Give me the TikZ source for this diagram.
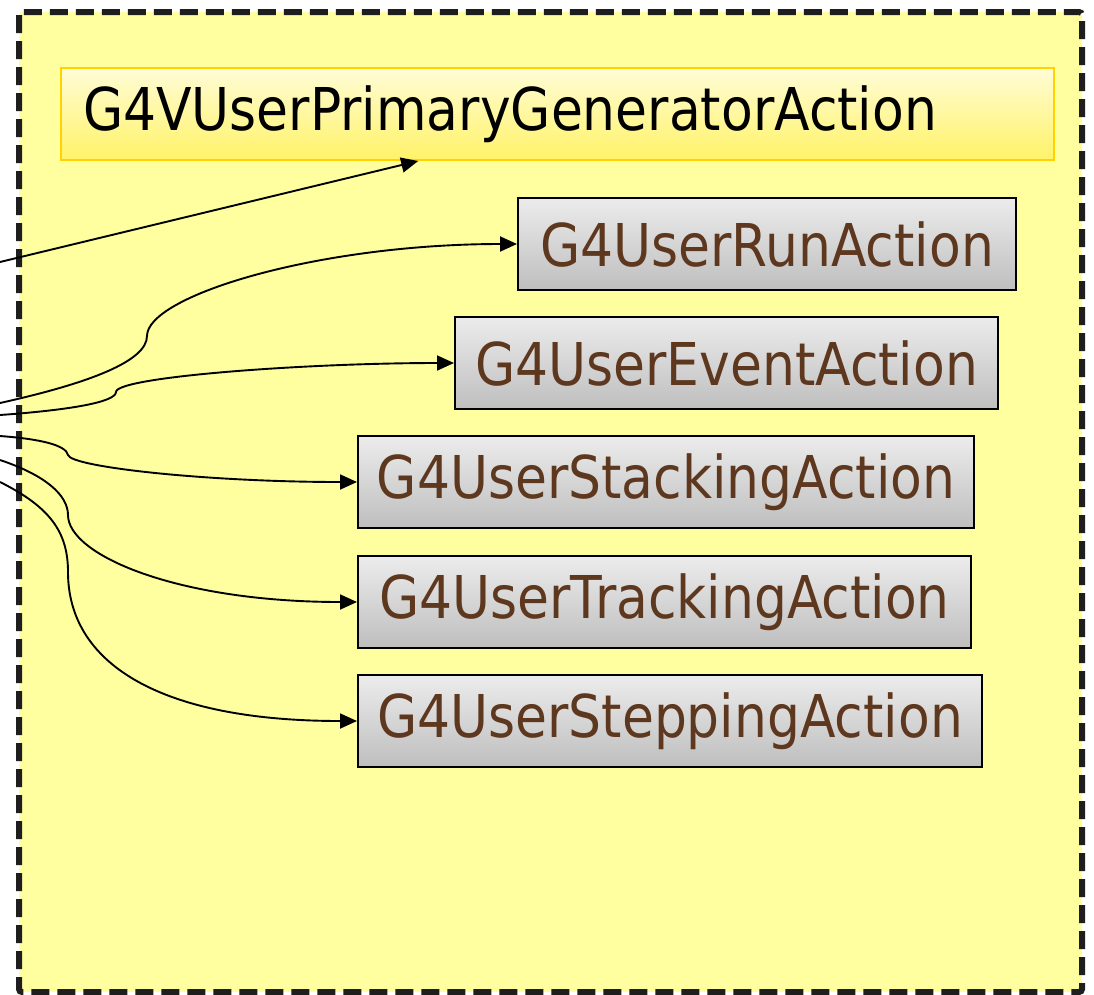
\documentclass[tikz,border=0pt]{standalone}
\usepackage{fontspec}
\setmainfont{DejaVu Sans}[FakeStretch=0.88]
\usetikzlibrary{calc,arrows.meta}
\definecolor{paneYellow}{RGB}{255,255,160}
\definecolor{paneBorder}{RGB}{30,30,30}
\definecolor{baseTop}{RGB}{255,252,214}
\definecolor{baseBottom}{RGB}{255,243,104}
\definecolor{baseBorder}{RGB}{255,210,0}
\definecolor{userTop}{RGB}{236,236,236}
\definecolor{userBottom}{RGB}{190,190,190}
\definecolor{userText}{RGB}{94,56,30}
\tikzset{
  basebox/.style={draw=baseBorder,line width=2pt,top color=baseTop,bottom color=baseBottom,
    minimum height=92pt,text width=949pt,align=left,inner xsep=22pt,anchor=north west,
    font=\fontsize{59}{60}\selectfont},
  userbox/.style={draw=black,line width=2pt,top color=userTop,bottom color=userBottom,
    minimum height=92pt,inner sep=0pt,anchor=north west,text=userText,
    font=\fontsize{59}{60}\selectfont},
  hook/.style={line width=1.9pt,-{Triangle[length=17pt,width=15pt]}}
}
\begin{document}
\begin{tikzpicture}[x=1pt,y=-1pt]
\useasboundingbox (0,0) rectangle (1094,994);
% the dashed pane
\draw[fill=paneYellow,draw=paneBorder,line width=6pt,dash pattern=on 18pt off 8pt,rounded corners=3pt]
  (19,12) rectangle (1082,992);
% action classes
\node[basebox] (prim) at (60,67) {G4VUserPrimaryGeneratorAction};
\node[userbox,minimum width=498pt] (run) at (517,197) {G4UserRunAction};
\node[userbox,minimum width=543pt] (event) at (454,316) {G4UserEventAction};
\node[userbox,minimum width=616pt] (stacking) at (357,435) {G4UserStackingAction};
\node[userbox,minimum width=613pt] (tracking) at (357,555) {G4UserTrackingAction};
\node[userbox,minimum width=624pt] (stepping) at (357,674) {G4UserSteppingAction};
% loose ends on the left
\coordinate (sPrim) at (0,262);
\coordinate (sRun) at (0,403);
\coordinate (sEvent) at (0,415);
\coordinate (sStack) at (0,436);
\coordinate (sTrack) at (0,460);
\coordinate (sStep) at (0,482);
\coordinate (kRun) at (147,336);
\coordinate (kEvent) at (116,392);
\coordinate (kStack) at (68,455);
\coordinate (kTrack) at (68,515);
\coordinate (kStep) at (68,572);
% connectors
\draw[hook] (sPrim) -- ($(prim.south west)!0.36!(prim.south east)$);
\draw[hook] (sRun) .. controls +(90,-20) and +(0,25) .. (kRun)
  .. controls +(0,-40) and +(-200,0) .. (run.west);
\draw[hook] (sEvent) .. controls +(70,-5) and +(0,10) .. (kEvent)
  .. controls +(0,-15) and +(-150,0) .. (event.west);
\draw[hook] (sStack) .. controls +(40,3) and +(-2,-10) .. (kStack)
  .. controls +(3,12) and +(-150,0) .. (stacking.west);
\draw[hook] (sTrack) .. controls +(45,15) and +(0,-20) .. (kTrack)
  .. controls +(0,40) and +(-180,0) .. (tracking.west);
\draw[hook] (sStep) .. controls +(50,25) and +(0,-40) .. (kStep)
  .. controls +(0,90) and +(-200,0) .. (stepping.west);
\end{tikzpicture}
\end{document}
